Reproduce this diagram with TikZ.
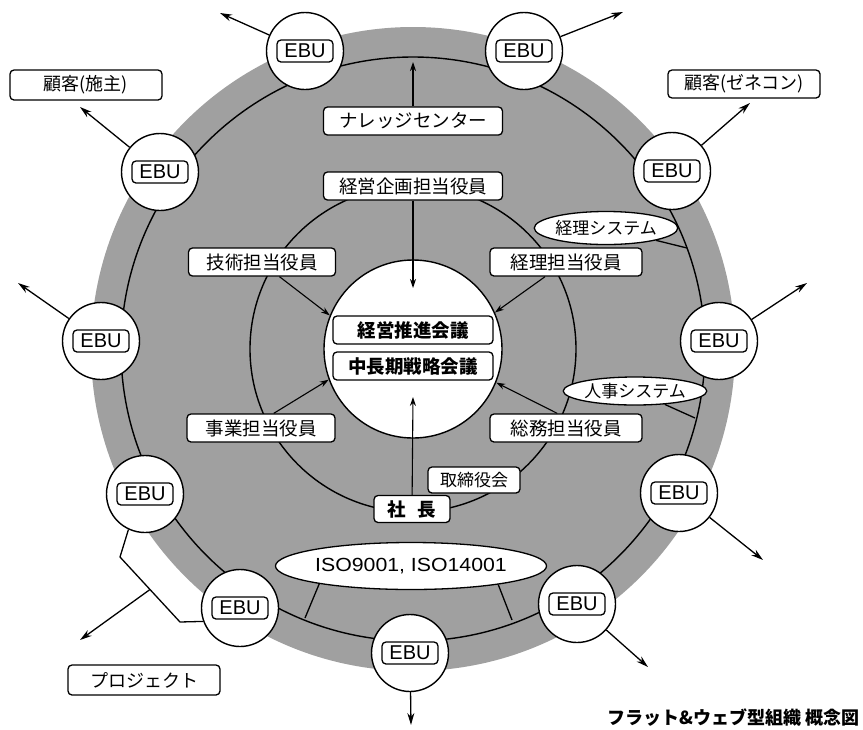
\documentclass[tikz,border=0pt]{standalone}
\usepackage{fontspec}
\newfontfamily\jp{Noto Sans CJK JP}
\newfontfamily\lat{Liberation Sans}
\newfontfamily\latw[FakeStretch=1.12]{Liberation Sans}
\usetikzlibrary{arrows.meta,shapes.geometric}
\definecolor{discgray}{HTML}{A0A0A0}
\tikzset{
  ringline/.style={line width=1.4pt},
  box/.style={draw, rounded corners=4pt, fill=white, line width=1.3pt, inner sep=0pt,
    minimum height=28pt, font=\jp\fontsize{18.5}{20}\selectfont},
  boldbox/.style={box, font=\jp\bfseries\fontsize{18.5}{20}\selectfont},
  oval/.style={ellipse, draw, fill=white, line width=1.3pt, inner sep=0pt,
    font=\jp\fontsize{17}{19}\selectfont},
  ebu/.style={circle, draw, fill=white, line width=1.4pt, minimum size=77pt, inner sep=0pt},
  ebubox/.style={draw, rounded corners=4pt, fill=white, line width=1.3pt, inner sep=0pt,
    minimum width=56pt, minimum height=22pt, font=\lat\fontsize{20}{22}\selectfont},
  arr/.style={-{Stealth[length=12pt,width=7pt]}, line width=1.3pt},
  iarr/.style={-{Stealth[length=9pt,width=6pt]}, line width=1.1pt},
  conn/.style={line width=1.3pt}
}
\begin{document}
\begin{tikzpicture}[x=1pt,y=-1pt]
\useasboundingbox (0,0) rectangle (863,729);
% disc and rings
\fill[discgray] (413,349) circle (322pt);
\draw[ringline] (413,349) circle (292pt);
\draw[ringline] (413,349) circle (163pt);
\node[circle, draw, fill=white, line width=1.4pt, minimum size=178pt, inner sep=0pt] (core) at (413,349) {};

% free-end coordinates
\coordinate (ringTop) at (413,62);
\coordinate (coreTop) at (413,288);
\coordinate (coreBot) at (413,397);
\coordinate (rAcc) at (687,248);
\coordinate (rHr) at (695,418);
\coordinate (rIsoL) at (305,618);
\coordinate (rIsoR) at (512,620);

% EBU circles
\node[ebu] (e1) at (305,51) {};
\node[ebu] (e2) at (524,51) {};
\node[ebu] (e3) at (160,172) {};
\node[ebu] (e4) at (672,171) {};
\node[ebu] (e5) at (101,341) {};
\node[ebu] (e6) at (719,341) {};
\node[ebu] (e7) at (145,494) {};
\node[ebu] (e8) at (679,493) {};
\node[ebu] (e9) at (240,608) {};
\node[ebu] (e10) at (577,604) {};
\node[ebu] (e11) at (410,653) {};
\foreach \i in {1,...,11} {\node[ebubox] (b\i) at (e\i) {EBU};}

% arrow end points
\coordinate (a1) at (220,13);
\coordinate (a2) at (623,12);
\coordinate (a3) at (80,107);
\coordinate (a4) at (750,103);
\coordinate (a5) at (18,283);
\coordinate (a6) at (807,283);
\coordinate (a8) at (763,560);
\coordinate (a10) at (648,667);
\coordinate (a11) at (411,725);
\foreach \i in {1,2,3,4,5,6,8,10,11} {\draw[arr] (e\i) -- (a\i);}

% project connector
\coordinate (p1) at (120,557);
\coordinate (p2) at (180,622);
\coordinate (pm) at (150,589.5);
\coordinate (pa) at (80,640);
\draw[conn] (e7.245) -- (p1) -- (p2) -- (e9.200);
\draw[arr] (pm) -- (pa);

% boxes
\node[box, minimum width=179pt] (know) at (413,121) {ナレッジセンター};
\node[box, minimum width=179pt] (plan) at (413,186) {経営企画担当役員};
\node[box, minimum width=147pt] (tech) at (262,262) {技術担当役員};
\node[box, minimum width=152pt] (acct) at (566,262) {経理担当役員};
\node[box, minimum width=148pt] (biz) at (261,428) {事業担当役員};
\node[box, minimum width=152pt] (gen) at (566,428) {総務担当役員};
\node[boldbox, minimum width=160pt] (m1) at (413,330) {経営推進会議};
\node[boldbox, minimum width=160pt] (m2) at (413,366) {中長期戦略会議};
\node[box, minimum width=92pt, minimum height=26pt, font=\jp\fontsize{17}{19}\selectfont] (board) at (474,480) {取締役会};
\node[boldbox, minimum width=76pt, minimum height=27pt] (pres) at (412,509) {社\hspace{0.6em}長};

% ellipses
\node[oval, minimum width=252pt, minimum height=47pt, font=\latw\fontsize{19}{21}\selectfont] (iso) at (411,566) {ISO9001, ISO14001};
\node[oval, minimum width=128pt, minimum height=33pt] (accsys) at (606,228) {経理システム};
\node[oval, minimum width=126pt, minimum height=28pt] (hrsys) at (635,391) {人事システム};

% outside labels
\node[box, minimum width=152pt, minimum height=30pt, font=\jp\fontsize{18}{20}\selectfont] (c1) at (86,85) {顧客(施主)};
\node[box, minimum width=152pt, minimum height=28pt, font=\jp\fontsize{18}{20}\selectfont] (c2) at (744,84) {顧客(ゼネコン)};
\node[box, minimum width=152pt, minimum height=30pt, font=\jp\fontsize{18}{20}\selectfont] (proj) at (144,680) {プロジェクト};

% inner connectors
\draw[iarr] (know) -- (ringTop);
\draw[iarr] (plan) -- (coreTop);
\draw[iarr] (pres) -- (coreBot);
\draw[iarr] (tech.320) -- (core.158);
\draw[iarr] (acct.215) -- (core.24);
\draw[iarr] (biz.49) -- (core.200);
\draw[iarr] (gen.121) -- (core.338);
\draw[conn] (accsys) -- (rAcc);
\draw[conn] (hrsys) -- (rHr);
\draw[conn] (iso.191) -- (rIsoL);
\draw[conn] (iso.348) -- (rIsoR);

% caption
\node[anchor=east, inner sep=0pt, font=\jp\bfseries\fontsize{18}{20}\selectfont] (cap) at (860,718) {フラット\&ウェブ型組織 概念図};
\end{tikzpicture}
\end{document}
